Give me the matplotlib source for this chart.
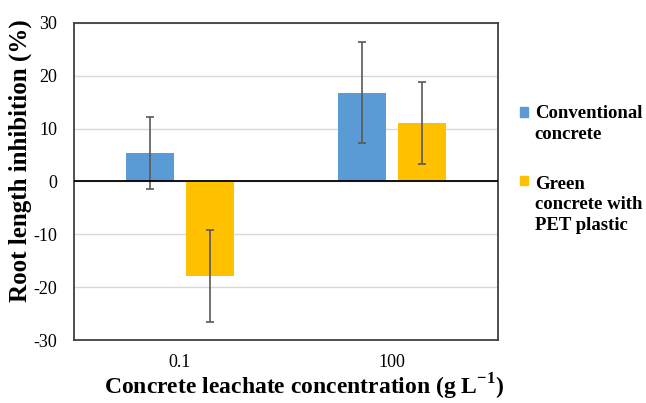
import numpy as np
import matplotlib.pyplot as plt
from matplotlib.patches import Patch

# Chart data:
categories = ['0.1', '100']
series_names = ['Conventional\nconcrete', 'Green\nconcrete with\nPET plastic']
conventional = [5.3, 16.8]
conventional_err = [6.8, 9.5]
green_pet = [-17.8, 11.0]
green_pet_err = [8.7, 7.7]

blue = '#5b9bd5'
gold = '#ffc000'

plt.rcParams['font.family'] = ['Liberation Serif', 'DejaVu Serif']
plt.rcParams['axes.unicode_minus'] = False

fig = plt.figure(figsize=(6.46, 4.03), dpi=100)
ax = fig.add_axes([0.1146, 0.156, 0.6564, 0.7877])

x = np.arange(len(categories))
w = 0.226
off = 0.1415

ax.bar(x - off, conventional, w, color=blue, zorder=3)
ax.bar(x + off, green_pet, w, color=gold, zorder=3)
ax.errorbar(x - off, conventional, yerr=conventional_err, fmt='none',
            ecolor='#595959', elinewidth=1.2, capsize=3, capthick=1.2, zorder=4)
ax.errorbar(x + off, green_pet, yerr=green_pet_err, fmt='none',
            ecolor='#595959', elinewidth=1.2, capsize=3, capthick=1.2, zorder=4)

ax.set_xlim(-0.5, 1.5)
ax.set_ylim(-30, 30)
ax.set_yticks(np.arange(-30, 31, 10))
ax.set_xticks(x)
ax.set_xticklabels(categories)
ax.tick_params(axis='both', length=0, labelsize=13)
ax.tick_params(axis='y', pad=12)
ax.tick_params(axis='x', pad=10)

ax.grid(axis='y', color='#d9d9d9', linewidth=1, zorder=0)
ax.axhline(0, color='black', linewidth=1.3, zorder=5)
for s in ax.spines.values():
    s.set_color('#404040')
    s.set_linewidth(1.3)

ax.set_ylabel('Root length inhibition (%)', fontsize=18, fontweight='bold')
ax.yaxis.set_label_coords(-0.098, 0.564)
ax.set_xlabel('Concrete leachate concentration (g L$^{\\mathregular{-1}}$)',
              fontsize=17, fontweight='bold')
ax.xaxis.set_label_coords(0.542, -0.098)

# Legend with the colour square beside the first line of each label:
fs = 13.5
lsp = 1.3
handles = [Patch(color=blue), Patch(color=gold)]
leg = fig.legend(handles, series_names, loc='upper left', bbox_to_anchor=(0.794, 0.757),
                 frameon=False, prop={'size': fs, 'weight': 'bold'},
                 handlelength=0.42, handleheight=0.42, handletextpad=0.35,
                 labelspacing=1.72, borderaxespad=0)
for t in leg.get_texts():
    t.set_linespacing(lsp)
for h, lab in zip(leg.legend_handles, series_names):
    nlines = lab.count('\n')
    h.set_y(h.get_y() + nlines * fs * lsp * 0.5)

fig.savefig('out.png', dpi=100)
